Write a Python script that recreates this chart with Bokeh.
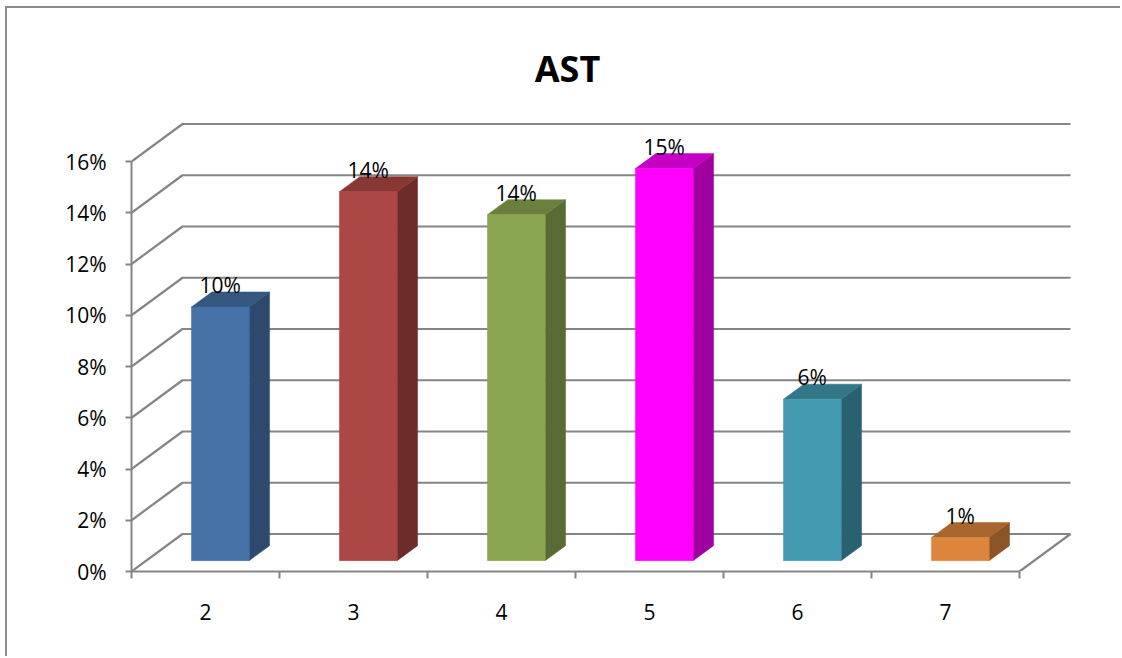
from bokeh.plotting import figure
from bokeh.models import Range1d, FixedTicker, ColumnDataSource
from bokeh.core.properties import value
from bokeh.embed import file_html
from bokeh.resources import INLINE

# ---------------- data ----------------
title_text = "AST"
categories = ["2", "3", "4", "5", "6", "7"]
percentages = [9.9, 14.4, 13.5, 15.3, 6.3, 0.9]
value_labels = ["10%", "14%", "14%", "15%", "6%", "1%"]
y_ticks = [0, 2, 4, 6, 8, 10, 12, 14, 16]
y_tick_labels = ["0%", "2%", "4%", "6%", "8%", "10%", "12%", "14%", "16%"]

front_colors = ["#4672A8", "#AB4744", "#8BA650", "#FF00FF", "#4299B0", "#DD853D"]
side_colors = ["#2D4A6E", "#6D2B2A", "#5A6A34", "#A000A0", "#2A6170", "#8B5427"]
top_colors = ["#34587F", "#883735", "#6C803E", "#C400C4", "#327787", "#A8652F"]

# ---------------- style / geometry constants ----------------
FONT = "Open Sans"
GRID = "#858585"
DX = 51 / 148.0        # depth offset in category units
DY = 37.5 / 25.625     # depth offset in percent units
ZF, ZB = 0.29, 0.69    # bar front / back depth fractions
BAR_W = 0.39
W, H = 1115, 650
LEFT, BOTTOM = 124, 87

n = len(categories)
ymax = y_ticks[-1]

p = figure(width=W, height=H, output_backend="svg", toolbar_location=None,
           x_range=Range1d(0, (W - LEFT) / 148.0), y_range=Range1d(0, (H - BOTTOM) / 25.625),
           min_border_left=LEFT, min_border_bottom=BOTTOM, min_border_top=0, min_border_right=0)
p.styles = {"position": "relative", "left": "7px", "top": "8px",
            "box-shadow": "-2px -2px 0px 0px #8c8c8c", "overflow": "hidden"}
p.outline_line_color = None
p.xgrid.visible = False
p.ygrid.visible = False
p.background_fill_color = "white"
p.border_fill_color = "white"

# walls / gridlines
gx, gy = [], []
for t in y_ticks:
    gx.append([0, DX, n + DX])
    gy.append([t, t + DY, t + DY])
gx.append([n, n + DX])
gy.append([0, DY])
p.multi_line(gx, gy, line_color=GRID, line_width=2.2)

# bars
lefts = [i + 0.5 - BAR_W / 2 for i in range(n)]
rights = [i + 0.5 + BAR_W / 2 for i in range(n)]
side_xs, side_ys, top_xs, top_ys = [], [], [], []
for l, r, v in zip(lefts, rights, percentages):
    side_xs.append([r + ZF * DX, r + ZB * DX, r + ZB * DX, r + ZF * DX])
    side_ys.append([ZF * DY, ZB * DY, v + ZB * DY, v + ZF * DY])
    top_xs.append([l + ZF * DX, r + ZF * DX, r + ZB * DX, l + ZB * DX])
    top_ys.append([v + ZF * DY, v + ZF * DY, v + ZB * DY, v + ZB * DY])

p.patches(side_xs, side_ys, fill_color=side_colors, line_color=side_colors, line_width=0.5)
p.patches(top_xs, top_ys, fill_color=top_colors, line_color=top_colors, line_width=0.5)
p.quad(left=[l + ZF * DX for l in lefts], right=[r + ZF * DX for r in rights],
       bottom=ZF * DY, top=[v + ZF * DY for v in percentages],
       fill_color=front_colors, line_color=front_colors, line_width=0.5)

# value labels
src = ColumnDataSource(dict(x=[i + 0.5 + ZF * DX for i in range(n)],
                            y=[v + ZB * DY for v in percentages],
                            t=value_labels))
p.text(x="x", y="y", text="t", source=src, text_font=value(FONT), text_font_size="21px",
       text_align="center", text_baseline="alphabetic", y_offset=-7, text_color="black")

# title
p.text(x=[(567 - 131) / 148.0], y=[(571 - 68) / 25.625], text=[title_text],
       text_font=value(FONT), text_font_size="36px", text_font_style="bold",
       text_align="center", text_baseline="alphabetic", text_color="black")

# axes
ya = p.yaxis[0]
ya.ticker = FixedTicker(ticks=y_ticks)
ya.bounds = (0, ymax)
ya.major_label_overrides = {t: lab for t, lab in zip(y_ticks, y_tick_labels)}
ya.axis_line_color = GRID
ya.axis_line_width = 2
ya.major_tick_line_color = GRID
ya.major_tick_line_width = 2
ya.major_tick_out = 6
ya.major_tick_in = 0
ya.minor_tick_line_color = None
ya.major_label_standoff = 19
ya.major_label_text_font = FONT
ya.major_label_text_font_size = "21px"
ya.major_label_text_color = "black"

xa = p.xaxis[0]
xa.ticker = FixedTicker(ticks=[i + 0.5 for i in range(n)], minor_ticks=list(range(n + 1)))
xa.bounds = (0, n)
xa.major_label_overrides = {i + 0.5: c for i, c in enumerate(categories)}
xa.axis_line_color = GRID
xa.axis_line_width = 2
xa.major_tick_line_color = None
xa.major_tick_out = 0
xa.major_tick_in = 0
xa.minor_tick_line_color = GRID
xa.minor_tick_line_width = 2
xa.minor_tick_out = 7
xa.minor_tick_in = 0
xa.major_label_standoff = 25
xa.major_label_text_font = FONT
xa.major_label_text_font_size = "21px"
xa.major_label_text_color = "black"

open("out.html", "w").write(file_html(p, INLINE))
